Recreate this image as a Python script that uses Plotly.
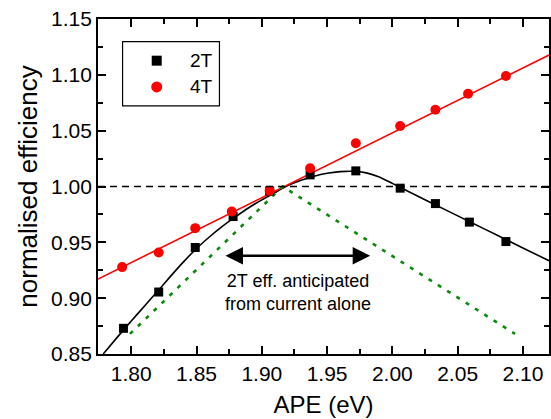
import plotly.graph_objects as go

# Measured data: normalised efficiency vs. absorber photon energy (APE)
ape_2t = [1.794, 1.821, 1.849, 1.878, 1.906, 1.937, 1.972, 2.006, 2.033, 2.059, 2.087]
eff_2t = [0.873, 0.9055, 0.9454, 0.9731, 0.996, 1.0104, 1.0140, 0.9985, 0.9847, 0.9681, 0.9507]

ape_4t = [1.793, 1.821, 1.849, 1.877, 1.906, 1.937, 1.972, 2.006, 2.033, 2.058, 2.087]
eff_4t = [0.9278, 0.9409, 0.9627, 0.9776, 0.9963, 1.0164, 1.0387, 1.0542, 1.0688, 1.0831, 1.0989]

# Smooth fit through the 2T data
fit_2t_x = [1.7785, 1.79, 1.80, 1.81, 1.82, 1.83, 1.84, 1.85, 1.86, 1.87, 1.88, 1.89, 1.90,
            1.91, 1.92, 1.93, 1.94, 1.95, 1.96, 1.97, 1.98, 1.99, 2.00, 2.01, 2.02, 2.03,
            2.04, 2.06, 2.08, 2.10, 2.12]
fit_2t_y = [0.850, 0.866, 0.8795, 0.8928, 0.906, 0.9195, 0.9325, 0.9445, 0.955, 0.9645, 0.973,
            0.981, 0.988, 0.9945, 1.0008, 1.0055, 1.0092, 1.0118, 1.0133, 1.0136, 1.0122,
            1.0085, 1.0028, 0.9968, 0.991, 0.9853, 0.9795, 0.968, 0.9565, 0.945, 0.9335]

# Linear fit to the 4T data
fit_4t_x = [1.7745, 2.12]
fit_4t_y = [0.9171, 1.1177]

# 2T efficiency expected from current matching alone
current_x = [1.799, 1.916, 2.094]
current_y = [0.868, 1.000, 0.868]

# Span of the annotated arrow (eV) and its height
arrow_x = [1.871, 1.983]
arrow_y = 0.938

x_range = [1.7745, 2.12]
y_range = [0.85, 1.15]
x_ticks = [1.80, 1.85, 1.90, 1.95, 2.00, 2.05, 2.10]
y_ticks = [0.85, 0.90, 0.95, 1.00, 1.05, 1.10, 1.15]

FONT = "Arial, Liberation Sans, sans-serif"
GREEN = "#0a8a0a"
RED = "#ff0000"

fig = go.Figure()

fig.add_trace(go.Scatter(x=fit_2t_x, y=fit_2t_y, mode="lines",
                         line=dict(color="black", width=1.6, shape="spline", smoothing=0.5),
                         hoverinfo="skip", showlegend=False))
fig.add_trace(go.Scatter(x=fit_4t_x, y=fit_4t_y, mode="lines",
                         line=dict(color=RED, width=1.6), hoverinfo="skip", showlegend=False))
fig.add_trace(go.Scatter(x=current_x, y=current_y, mode="lines",
                         line=dict(color=GREEN, width=2.6, dash="4px,7px"),
                         hoverinfo="skip", showlegend=False))
fig.add_trace(go.Scatter(x=ape_2t, y=eff_2t, mode="markers", name="2T",
                         marker=dict(symbol="square", size=9, color="black"), showlegend=False))
fig.add_trace(go.Scatter(x=ape_4t, y=eff_4t, mode="markers", name="4T",
                         marker=dict(symbol="circle", size=10, color=RED), showlegend=False))

# Legend markers on a hidden unit-square overlay
fig.add_trace(go.Scatter(x=[0.1302], y=[0.8756], xaxis="x2", yaxis="y2", mode="markers",
                         marker=dict(symbol="square", size=10, color="black"),
                         hoverinfo="skip", showlegend=False))
fig.add_trace(go.Scatter(x=[0.1302], y=[0.7972], xaxis="x2", yaxis="y2", mode="markers",
                         marker=dict(symbol="circle", size=11, color=RED),
                         hoverinfo="skip", showlegend=False))

shapes = [
    # unity reference line
    dict(type="line", xref="paper", yref="y", x0=0, x1=1, y0=1.0, y1=1.0,
         line=dict(color="black", width=1.6, dash="7px,5px")),
    # legend frame
    dict(type="rect", xref="paper", yref="paper", x0=0.0545, x1=0.2693, y0=0.7405, y1=0.9323,
         line=dict(color="black", width=1.2), fillcolor="rgba(0,0,0,0)"),
]

annotations = [
    dict(x=0.1987, y=0.8756, xref="paper", yref="paper", text="2T", showarrow=False,
         xanchor="left", yanchor="middle", font=dict(size=19, family=FONT, color="black")),
    dict(x=0.1987, y=0.7972, xref="paper", yref="paper", text="4T", showarrow=False,
         xanchor="left", yanchor="middle", font=dict(size=19, family=FONT, color="black")),
    dict(x=arrow_x[1], y=arrow_y, ax=arrow_x[0], ay=arrow_y, xref="x", yref="y",
         axref="x", ayref="y", text="", showarrow=True, arrowhead=2, startarrowhead=2,
         arrowside="end+start", arrowwidth=2.5, arrowsize=1.4, startarrowsize=1.4,
         arrowcolor="black"),
    dict(x=1.928, y=0.905, xref="x", yref="y",
         text="2T eff. anticipated<br>from current alone", showarrow=False,
         xanchor="center", yanchor="middle", align="center",
         font=dict(size=18, family=FONT, color="black")),
]

axis_common = dict(
    showline=True, linecolor="black", linewidth=1.8, mirror="ticks",
    ticks="inside", ticklen=8, tickwidth=1.5, tickcolor="black",
    showgrid=False, zeroline=False,
    tickfont=dict(size=21, family=FONT, color="black"),
)

fig.update_layout(
    width=551, height=419,
    margin=dict(l=98, r=0, t=19, b=65),
    paper_bgcolor="white", plot_bgcolor="white",
    font=dict(family=FONT, color="black"),
    xaxis=dict(range=x_range, tickvals=x_ticks, ticktext=[f"{v:.2f}" for v in x_ticks],
               minor=dict(ticks="inside", ticklen=5, tickwidth=1.5, tickcolor="black",
                          dtick=0.025, tick0=1.80),
               title=dict(text="APE (eV)", font=dict(size=24, family=FONT), standoff=12),
               **axis_common),
    yaxis=dict(range=y_range, tickvals=y_ticks, ticktext=[f"{v:.2f}" for v in y_ticks],
               minor=dict(ticks="inside", ticklen=5, tickwidth=1.5, tickcolor="black",
                          dtick=0.025, tick0=0.85),
               title=dict(text="normalised efficiency", font=dict(size=26, family=FONT), standoff=6),
               **axis_common),
    xaxis2=dict(overlaying="x", range=[0, 1], visible=False),
    yaxis2=dict(overlaying="y", range=[0, 1], visible=False),
    shapes=shapes,
    annotations=annotations,
)

fig.write_html("out.html")
